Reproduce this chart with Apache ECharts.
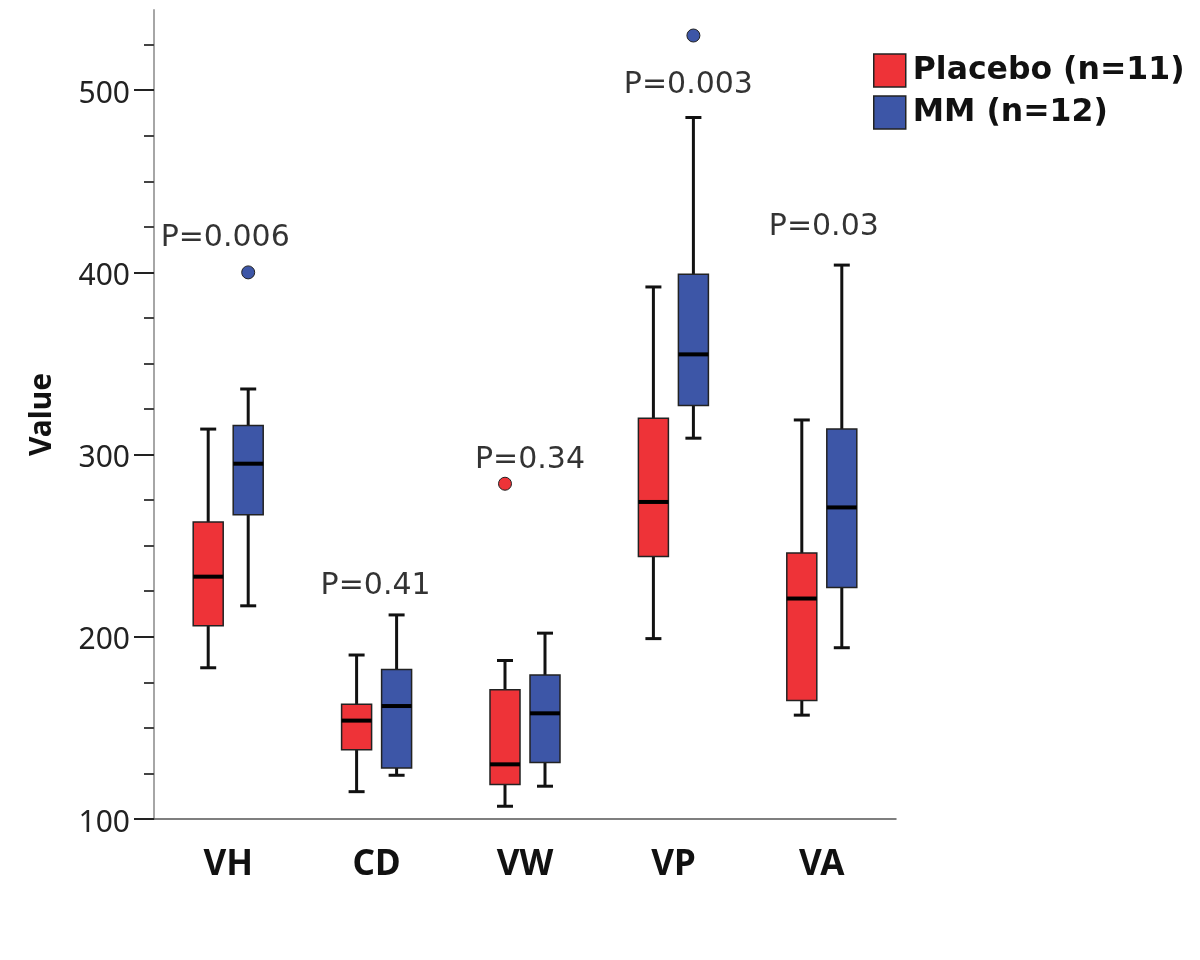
<!DOCTYPE html>
<html>
<head>
<meta charset="UTF-8"/>
<title>Value by group</title>
<script src="https://cdn.jsdelivr.net/npm/echarts@6/dist/echarts.min.js"></script>
<style>
  body { margin: 0; background: #fff; }
  #chart { width: 1200px; height: 960px; }
</style>
</head>
<body>
<div id="chart"></div>
<script type="text/javascript">
  var categories = ['VH', 'CD', 'VW', 'VP', 'VA'];
  // each row: [min, Q1, median, Q3, max]
  var placeboBox = [
    [183, 206, 233, 263, 314],
    [115, 138, 154, 163, 190],
    [107, 119, 130, 171, 187],
    [199, 244, 274, 320, 392],
    [157, 165, 221, 246, 319]
  ];
  var mmBox = [
    [217, 267, 295, 316, 336],
    [124, 128, 162, 182, 212],
    [118, 131, 158, 179, 202],
    [309, 327, 355, 399, 485],
    [194, 227, 271, 314, 404]
  ];
  // [category index, value]
  var placeboOutliers = [[2, 284]];
  var mmOutliers = [[0, 400], [3, 530]];
  var pTexts = ['P=0.006', 'P=0.41', 'P=0.34', 'P=0.003', 'P=0.03'];
  var pHeights = [419, 228, 297, 503, 425];

  var placeboName = 'Placebo (n=11)';
  var mmName = 'MM (n=12)';
  var red = '#ee3338';
  var blue = '#3d56a7';
  var pNudge = [-3, -1, 5, 15, 2];

  function boxItem(offset, color) {
    return function (params, api) {
      var cx = api.coord([api.value(0), api.value(3)])[0] + offset;
      var yMin = api.coord([api.value(0), api.value(1)])[1];
      var yQ1 = api.coord([api.value(0), api.value(2)])[1];
      var yMed = api.coord([api.value(0), api.value(3)])[1];
      var yQ3 = api.coord([api.value(0), api.value(4)])[1];
      var yMax = api.coord([api.value(0), api.value(5)])[1];
      var half = 15, cap = 8;
      var wStyle = {stroke: '#111', lineWidth: 3};
      return {
        type: 'group',
        children: [
          {type: 'line', shape: {x1: cx, y1: yQ3, x2: cx, y2: yMax}, style: wStyle},
          {type: 'line', shape: {x1: cx, y1: yQ1, x2: cx, y2: yMin}, style: wStyle},
          {type: 'line', shape: {x1: cx - cap, y1: yMax, x2: cx + cap, y2: yMax}, style: wStyle},
          {type: 'line', shape: {x1: cx - cap, y1: yMin, x2: cx + cap, y2: yMin}, style: wStyle},
          {type: 'rect', shape: {x: cx - half, y: yQ3, width: half * 2, height: yQ1 - yQ3},
            style: {fill: color, stroke: '#222', lineWidth: 1.5}},
          {type: 'line', shape: {x1: cx - half, y1: yMed, x2: cx + half, y2: yMed},
            style: {stroke: '#000', lineWidth: 4}}
        ]
      };
    };
  }

  function withIndex(rows) {
    return rows.map(function (r, i) { return [i].concat(r); });
  }

  var myChart = echarts.init(document.getElementById('chart'));
  var option = {
    backgroundColor: '#fff',
    animation: false,
    legend: {
      orient: 'vertical',
      left: 873,
      top: 53,
      padding: 0,
      itemWidth: 32,
      itemHeight: 33,
      itemGap: 7,
      selectedMode: false,
      textStyle: {fontFamily: 'DejaVu Sans', fontWeight: 'bold', fontSize: 31.5, color: '#111',
        lineHeight: 20, padding: [0, 0, 15, 2]},
      data: [
        {name: placeboName, icon: 'rect', itemStyle: {color: red, borderColor: '#222', borderWidth: 1.5}},
        {name: mmName, icon: 'rect', itemStyle: {color: blue, borderColor: '#222', borderWidth: 1.5}}
      ]
    },
    grid: [
      {left: 154, right: 304, top: 10, bottom: 141},
      {left: 154, right: 304, top: 44.6, bottom: 141},
      {left: 154, right: 304, top: 90.2, bottom: 141}
    ],
    xAxis: [
      {
        type: 'category', gridIndex: 0, data: categories,
        axisLine: {lineStyle: {color: '#555', width: 1.5}},
        axisTick: {alignWithLabel: true, length: 23, lineStyle: {color: '#222', width: 2}},
        axisLabel: {margin: 29, fontFamily: 'Noto Sans', fontWeight: 'bold', fontSize: 35, color: '#111'}
      },
      {type: 'category', gridIndex: 1, data: categories, show: false},
      {type: 'category', gridIndex: 2, data: categories, show: false}
    ],
    yAxis: [
      {
        type: 'value', gridIndex: 0, min: 100, max: 544,
        name: 'Value', nameLocation: 'middle', nameGap: 97,
        nameTextStyle: {fontFamily: 'Noto Sans', fontWeight: 'bold', fontSize: 30, color: '#111'},
        axisLine: {show: true, lineStyle: {color: '#a6a6a6', width: 2}},
        axisTick: {show: false}, axisLabel: {show: false}, splitLine: {show: false}
      },
      {
        type: 'value', gridIndex: 1, min: 100, max: 525, interval: 25,
        axisLine: {show: false},
        axisTick: {show: true, length: 10, lineStyle: {color: '#444', width: 2}},
        axisLabel: {show: false}, splitLine: {show: false}
      },
      {
        type: 'value', gridIndex: 2, min: 100, max: 500, interval: 100,
        axisLine: {show: false},
        axisTick: {show: true, length: 20, lineStyle: {color: '#222', width: 2}},
        axisLabel: {margin: 24, fontFamily: 'Noto Sans', fontSize: 30, color: '#222',
          verticalAlign: 'top', lineHeight: 8},
        splitLine: {show: false}
      }
    ],
    series: [
      {
        name: placeboName, type: 'custom', xAxisIndex: 0, yAxisIndex: 0,
        itemStyle: {color: red},
        encode: {x: 0, y: [1, 2, 3, 4, 5]},
        renderItem: boxItem(-20, red),
        data: withIndex(placeboBox)
      },
      {
        name: mmName, type: 'custom', xAxisIndex: 0, yAxisIndex: 0,
        itemStyle: {color: blue},
        encode: {x: 0, y: [1, 2, 3, 4, 5]},
        renderItem: boxItem(20, blue),
        data: withIndex(mmBox)
      },
      {
        name: 'placebo outliers', type: 'scatter', symbol: 'circle', symbolSize: 13,
        symbolOffset: [-20, 0],
        itemStyle: {color: red, borderColor: '#222', borderWidth: 1, opacity: 1},
        data: placeboOutliers
      },
      {
        name: 'mm outliers', type: 'scatter', symbol: 'circle', symbolSize: 13,
        symbolOffset: [20, 0],
        itemStyle: {color: blue, borderColor: '#222', borderWidth: 1, opacity: 1},
        data: mmOutliers
      },
      {
        name: 'p values', type: 'scatter', symbolSize: 1, silent: true,
        itemStyle: {color: 'rgba(0,0,0,0)'},
        label: {show: true, position: 'inside', fontFamily: 'DejaVu Sans', fontSize: 30, color: '#000'},
        data: pHeights.map(function (v, i) {
          return {value: [i, v], label: {formatter: pTexts[i], offset: [pNudge[i], 0]}};
        })
      }
    ]
  };
  myChart.setOption(option);
</script>
</body>
</html>
